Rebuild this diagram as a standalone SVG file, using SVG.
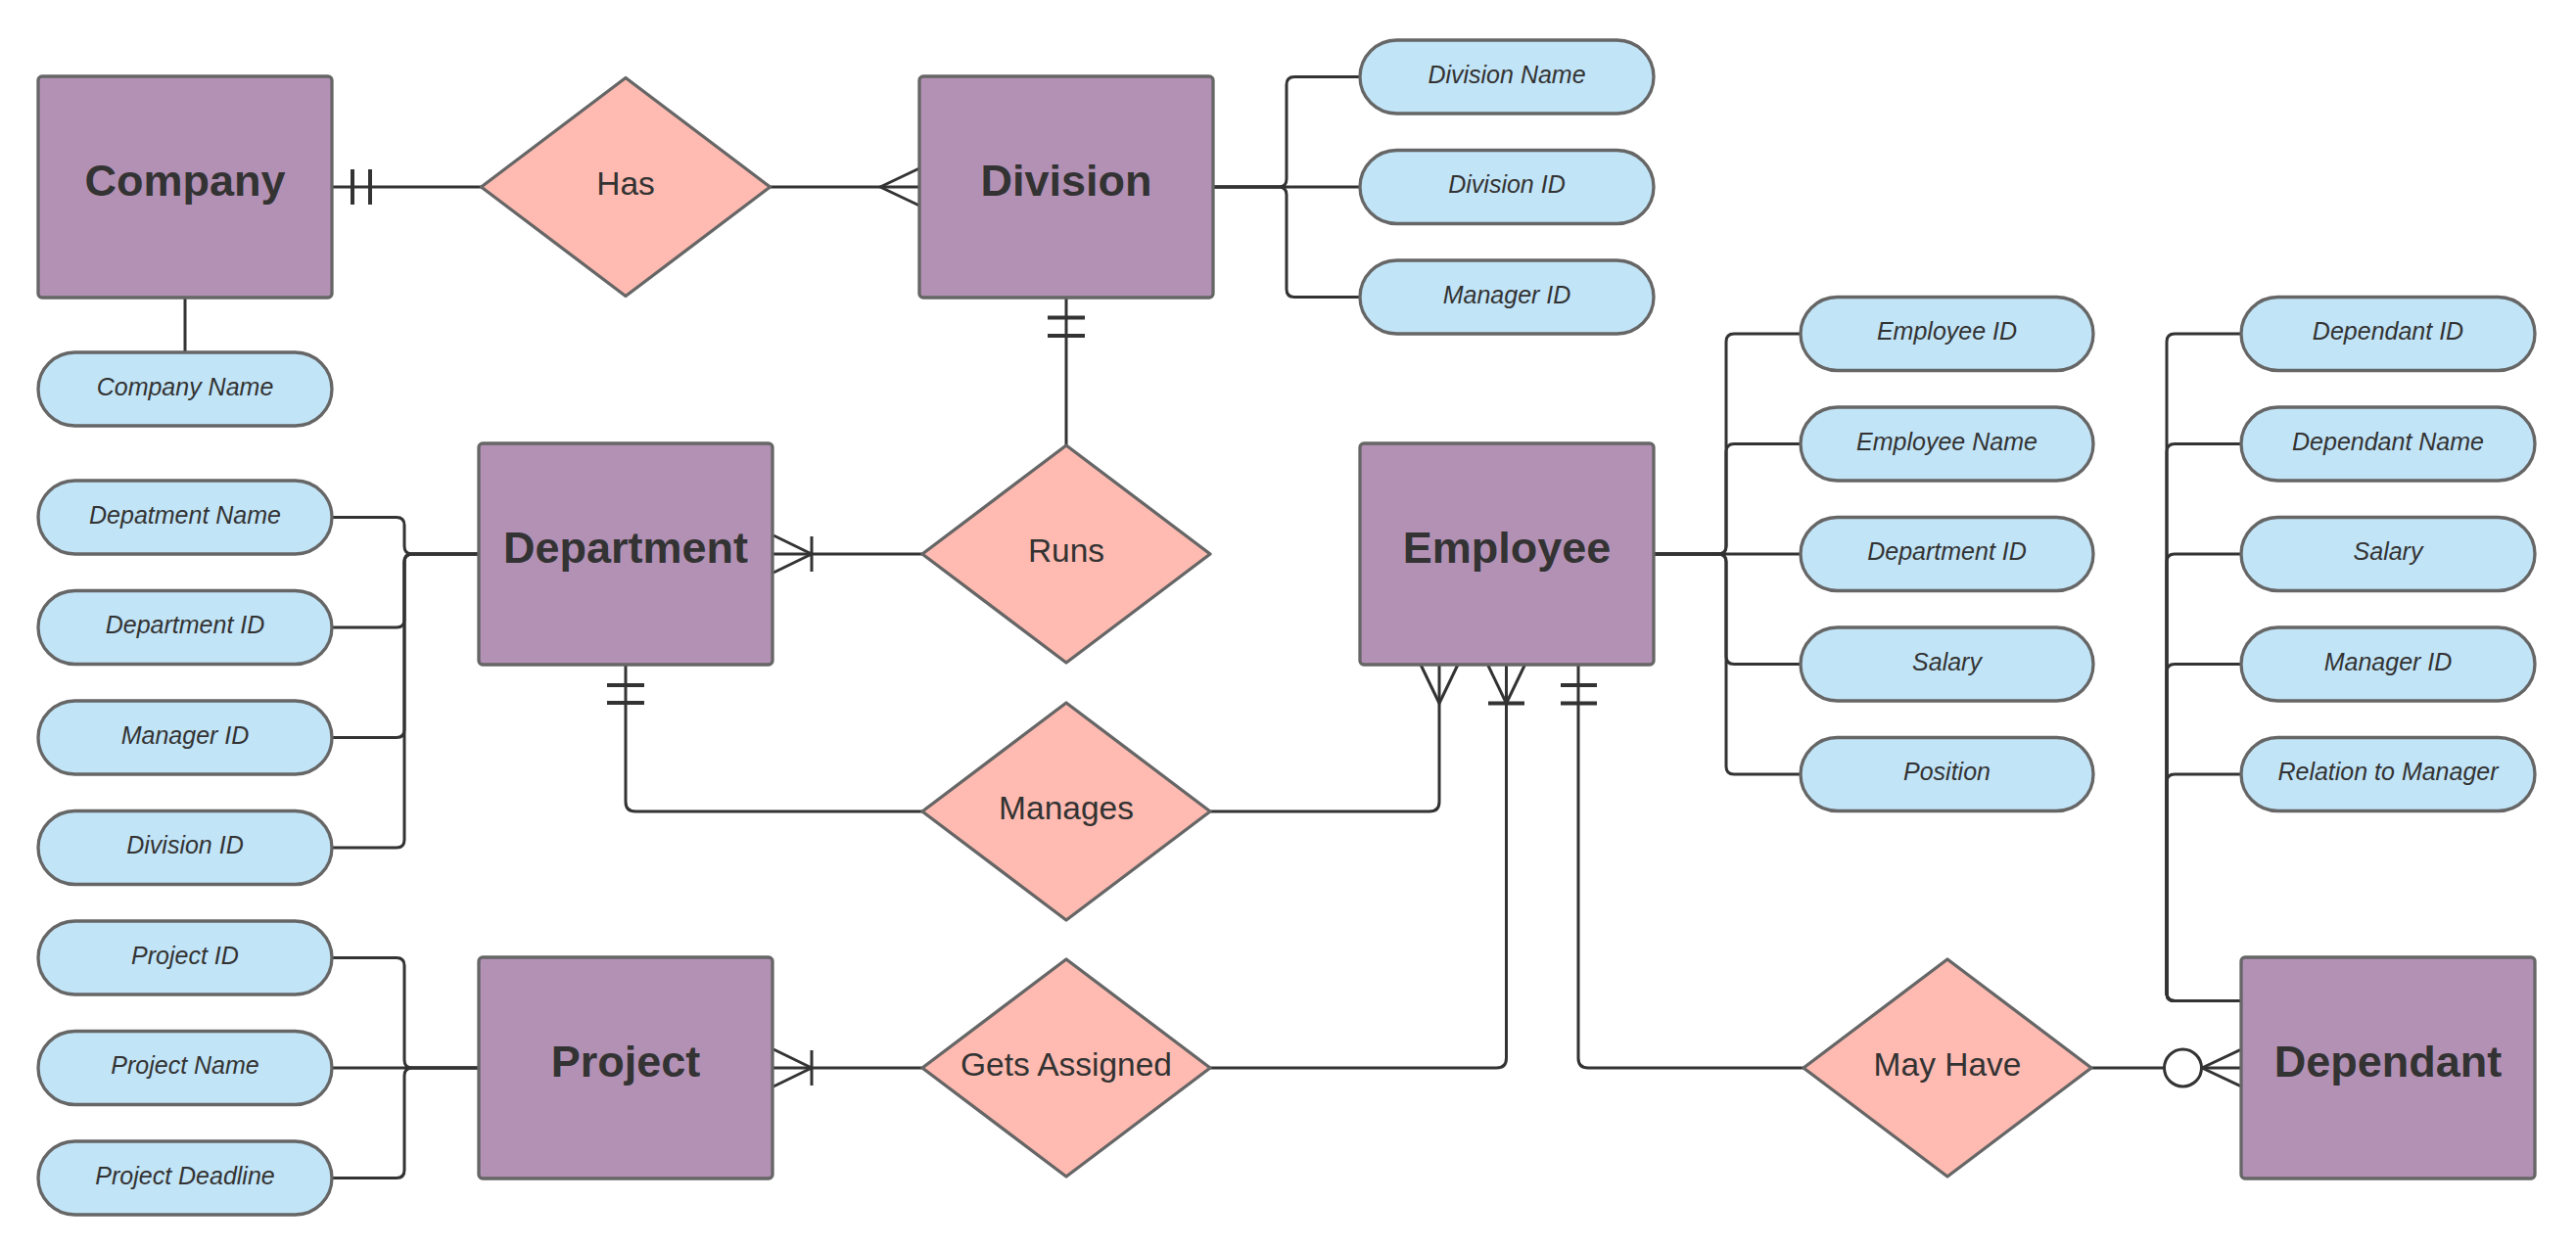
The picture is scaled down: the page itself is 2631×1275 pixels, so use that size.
<svg xmlns="http://www.w3.org/2000/svg" width="2631" height="1275" viewBox="0 0 2631 1275">
<style>
.ent{fill:#b391b5;stroke:#666666;stroke-width:3.3}
.rel{fill:#ffbbb1;stroke:#666666;stroke-width:3.3;stroke-linejoin:round}
.att{fill:#c1e4f7;stroke:#666666;stroke-width:3.3}
.et{font-family:"Liberation Sans",Arial,sans-serif;font-weight:bold;font-size:45px;fill:#333333;text-anchor:middle}
.rt{font-family:"Liberation Sans",Arial,sans-serif;font-size:33.5px;fill:#333333;text-anchor:middle}
.at{font-family:"Liberation Sans",Arial,sans-serif;font-style:italic;font-size:25px;fill:#333333;text-anchor:middle}
.c{fill:none;stroke:#333333;stroke-width:3;stroke-linejoin:round}
.bar{fill:none;stroke:#333333;stroke-width:4}
</style>
<rect width="2631" height="1275" fill="#ffffff"/>

<g id="connectors">
  <!-- Company - Company Name -->
  <path class="c" d="M189,304 V359.5"/>
  <!-- Company - Has -->
  <path class="c" d="M339,191 H492"/>
  <path class="bar" d="M360,173 V209 M378,173 V209"/>
  <!-- Has - Division -->
  <path class="c" d="M786,191 H939"/>
  <path class="c" d="M939,172 L899,191 L939,210"/>
  <!-- Division - Runs -->
  <path class="c" d="M1089,304 V456"/>
  <path class="bar" d="M1070,324.5 H1108 M1070,343 H1108"/>
  <!-- Runs - Department -->
  <path class="c" d="M942,566 H790"/>
  <path class="c" d="M790,547 L829,566 L790,585 M829,548 V584"/>
  <!-- Department - Manages -->
  <path class="c" d="M639,679 V819 Q639,829 649,829 H942"/>
  <path class="bar" d="M620,700 H658 M620,718 H658"/>
  <!-- Manages - Employee -->
  <path class="c" d="M1236,829 H1460 Q1470,829 1470,819 V679"/>
  <path class="c" d="M1451,679 L1470,718.5 L1489,679"/>
  <!-- Gets Assigned - Employee -->
  <path class="c" d="M1236,1091 H1528.5 Q1538.5,1091 1538.5,1081 V679"/>
  <path class="c" d="M1519.5,679 L1538.5,718.5 L1557.5,679"/>
  <path class="bar" d="M1520,718.5 H1557"/>
  <!-- Gets Assigned - Project -->
  <path class="c" d="M942,1091 H790"/>
  <path class="c" d="M790,1072 L829,1091 L790,1110 M829,1073 V1109"/>
  <!-- Employee - May Have -->
  <path class="c" d="M1612,679 V1081 Q1612,1091 1622,1091 H1842"/>
  <path class="bar" d="M1594,700 H1631 M1594,718.5 H1631"/>
  <!-- May Have - Dependant -->
  <path class="c" d="M2136,1091 H2289"/>
  <circle cx="2229.5" cy="1091" r="19" fill="#ffffff" stroke="#333333" stroke-width="3"/>
  <path class="c" d="M2288,1072.5 L2249,1091 L2288,1109.5"/>

  <!-- Division attributes -->
  <path class="c" d="M1239,191 H1306 Q1314,191 1314,183 V86.5 Q1314,78.5 1322,78.5 H1389"/>
  <path class="c" d="M1239,191 H1389"/>
  <path class="c" d="M1239,191 H1306 Q1314,191 1314,199 V295.5 Q1314,303.5 1322,303.5 H1389"/>

  <!-- Employee attributes -->
  <path class="c" d="M1689,566 H1755 Q1763,566 1763,558 V349 Q1763,341 1771,341 H1839"/>
  <path class="c" d="M1689,566 H1755 Q1763,566 1763,558 V461.5 Q1763,453.5 1771,453.5 H1839"/>
  <path class="c" d="M1689,566 H1839"/>
  <path class="c" d="M1689,566 H1755 Q1763,566 1763,574 V670.5 Q1763,678.5 1771,678.5 H1839"/>
  <path class="c" d="M1689,566 H1755 Q1763,566 1763,574 V783 Q1763,791 1771,791 H1839"/>

  <!-- Dependant attributes -->
  <path class="c" d="M2289,1022.5 H2221 Q2213,1022.5 2213,1014.5 V349 Q2213,341 2221,341 H2289"/>
  <path class="c" d="M2289,1022.5 H2221 Q2213,1022.5 2213,1014.5 V461.5 Q2213,453.5 2221,453.5 H2289"/>
  <path class="c" d="M2289,1022.5 H2221 Q2213,1022.5 2213,1014.5 V574 Q2213,566 2221,566 H2289"/>
  <path class="c" d="M2289,1022.5 H2221 Q2213,1022.5 2213,1014.5 V686.5 Q2213,678.5 2221,678.5 H2289"/>
  <path class="c" d="M2289,1022.5 H2221 Q2213,1022.5 2213,1014.5 V799 Q2213,791 2221,791 H2289"/>

  <!-- Department attributes -->
  <path class="c" d="M489,566 H421 Q413,566 413,558 V536.5 Q413,528.5 405,528.5 H339"/>
  <path class="c" d="M489,566 H421 Q413,566 413,574 V633 Q413,641 405,641 H339"/>
  <path class="c" d="M489,566 H421 Q413,566 413,574 V745.5 Q413,753.5 405,753.5 H339"/>
  <path class="c" d="M489,566 H421 Q413,566 413,574 V858 Q413,866 405,866 H339"/>

  <!-- Project attributes -->
  <path class="c" d="M489,1091 H421 Q413,1091 413,1083 V986.5 Q413,978.5 405,978.5 H339"/>
  <path class="c" d="M489,1091 H339"/>
  <path class="c" d="M489,1091 H421 Q413,1091 413,1099 V1195.5 Q413,1203.5 405,1203.5 H339"/>
</g>

<!-- Entities -->
<g id="company"><rect class="ent" x="39" y="78" width="300" height="226" rx="4"/><text class="et" x="189" y="200">Company</text></g>
<g id="division"><rect class="ent" x="939" y="78" width="300" height="226" rx="4"/><text class="et" x="1089" y="200">Division</text></g>
<g id="department"><rect class="ent" x="489" y="453" width="300" height="226" rx="4"/><text class="et" x="639" y="575">Department</text></g>
<g id="employee"><rect class="ent" x="1389" y="453" width="300" height="226" rx="4"/><text class="et" x="1539" y="575">Employee</text></g>
<g id="project"><rect class="ent" x="489" y="978" width="300" height="226" rx="4"/><text class="et" x="639" y="1100">Project</text></g>
<g id="dependant"><rect class="ent" x="2289" y="978" width="300" height="226" rx="4"/><text class="et" x="2439" y="1100">Dependant</text></g>

<!-- Relationships -->
<g id="has"><path class="rel" d="M639,79.5 L786.5,191 L639,302.5 L491.5,191 Z"/><text class="rt" x="639" y="199">Has</text></g>
<g id="runs"><path class="rel" d="M1089,455 L1236,566 L1089,677 L942,566 Z"/><text class="rt" x="1089" y="574">Runs</text></g>
<g id="manages"><path class="rel" d="M1089,718 L1236,829 L1089,940 L942,829 Z"/><text class="rt" x="1089" y="837">Manages</text></g>
<g id="gets-assigned"><path class="rel" d="M1089,980 L1236,1091 L1089,1202 L942,1091 Z"/><text class="rt" x="1089" y="1099">Gets Assigned</text></g>
<g id="may-have"><path class="rel" d="M1989,980 L2136,1091 L1989,1202 L1842,1091 Z"/><text class="rt" x="1989" y="1099">May Have</text></g>

<!-- Attributes -->
<g id="attr-company-name"><rect class="att" x="39" y="360" width="300" height="75" rx="37.5"/><text class="at" x="189" y="403.5">Company Name</text></g>

<g id="attr-division-name"><rect class="att" x="1389" y="41" width="300" height="75" rx="37.5"/><text class="at" x="1539" y="84.5">Division Name</text></g>
<g id="attr-division-id"><rect class="att" x="1389" y="153.5" width="300" height="75" rx="37.5"/><text class="at" x="1539" y="197">Division ID</text></g>
<g id="attr-division-manager-id"><rect class="att" x="1389" y="266" width="300" height="75" rx="37.5"/><text class="at" x="1539" y="309.5">Manager ID</text></g>

<g id="attr-employee-id"><rect class="att" x="1839" y="303.5" width="299" height="75" rx="37.5"/><text class="at" x="1988.5" y="347">Employee ID</text></g>
<g id="attr-employee-name"><rect class="att" x="1839" y="416" width="299" height="75" rx="37.5"/><text class="at" x="1988.5" y="459.5">Employee Name</text></g>
<g id="attr-employee-dept-id"><rect class="att" x="1839" y="528.5" width="299" height="75" rx="37.5"/><text class="at" x="1988.5" y="572">Department ID</text></g>
<g id="attr-employee-salary"><rect class="att" x="1839" y="641" width="299" height="75" rx="37.5"/><text class="at" x="1988.5" y="684.5">Salary</text></g>
<g id="attr-employee-position"><rect class="att" x="1839" y="753.5" width="299" height="75" rx="37.5"/><text class="at" x="1988.5" y="797">Position</text></g>

<g id="attr-dependant-id"><rect class="att" x="2289" y="303.5" width="300" height="75" rx="37.5"/><text class="at" x="2439" y="347">Dependant ID</text></g>
<g id="attr-dependant-name"><rect class="att" x="2289" y="416" width="300" height="75" rx="37.5"/><text class="at" x="2439" y="459.5">Dependant Name</text></g>
<g id="attr-dependant-salary"><rect class="att" x="2289" y="528.5" width="300" height="75" rx="37.5"/><text class="at" x="2439" y="572">Salary</text></g>
<g id="attr-dependant-manager-id"><rect class="att" x="2289" y="641" width="300" height="75" rx="37.5"/><text class="at" x="2439" y="684.5">Manager ID</text></g>
<g id="attr-dependant-relation"><rect class="att" x="2289" y="753.5" width="300" height="75" rx="37.5"/><text class="at" x="2439" y="797">Relation to Manager</text></g>

<g id="attr-dept-name"><rect class="att" x="39" y="491" width="300" height="75" rx="37.5"/><text class="at" x="189" y="534.5">Depatment Name</text></g>
<g id="attr-dept-id"><rect class="att" x="39" y="603.5" width="300" height="75" rx="37.5"/><text class="at" x="189" y="647">Department ID</text></g>
<g id="attr-dept-manager-id"><rect class="att" x="39" y="716" width="300" height="75" rx="37.5"/><text class="at" x="189" y="759.5">Manager ID</text></g>
<g id="attr-dept-division-id"><rect class="att" x="39" y="828.5" width="300" height="75" rx="37.5"/><text class="at" x="189" y="872">Division ID</text></g>

<g id="attr-project-id"><rect class="att" x="39" y="941" width="300" height="75" rx="37.5"/><text class="at" x="189" y="984.5">Project ID</text></g>
<g id="attr-project-name"><rect class="att" x="39" y="1053.5" width="300" height="75" rx="37.5"/><text class="at" x="189" y="1097">Project Name</text></g>
<g id="attr-project-deadline"><rect class="att" x="39" y="1166" width="300" height="75" rx="37.5"/><text class="at" x="189" y="1209.5">Project Deadline</text></g>
</svg>
